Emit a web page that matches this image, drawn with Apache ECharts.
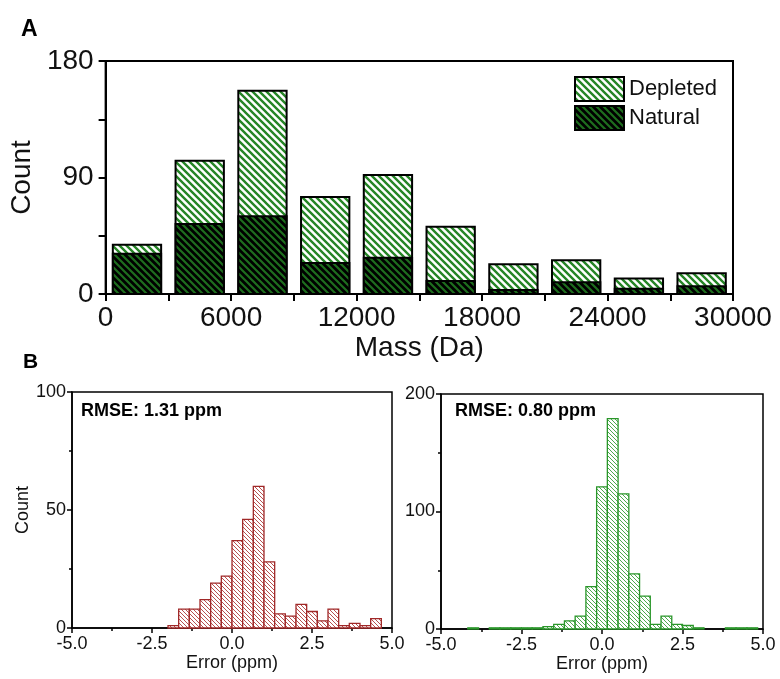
<!DOCTYPE html>
<html>
<head>
<meta charset="utf-8">
<script src="https://cdn.jsdelivr.net/npm/echarts@6/dist/echarts.min.js"></script>
<style>
  html, body { margin: 0; padding: 0; background: #fff; }
  #main { width: 780px; height: 679px; }
</style>
</head>
<body>
<div id="main"></div>
<script>
// panel A: mass histogram, bins of 3000 Da
const massBinStart = [0, 3000, 6000, 9000, 12000, 15000, 18000, 21000, 24000, 27000]
const massBinSize = 3000
const depletedCounts = [38, 103, 157, 75, 92, 52, 23, 26, 12, 16]
const naturalCounts = [31, 54, 60, 24, 28, 10, 3, 9, 4, 6]

// panel B: error histograms, bins of 1/3 ppm (bin centres)
const errBinSize = 1 / 3
const errCentersLeft = [-1.833, -1.5, -1.167, -0.833, -0.5, -0.167, 0.167, 0.5, 0.833, 1.167,
  1.5, 1.833, 2.167, 2.5, 2.833, 3.167, 3.5, 3.833, 4.167, 4.5]
const errCountsLeft = [1, 8, 8, 12, 19, 22, 37, 46, 60, 28, 6, 5, 10, 7, 3, 8, 1, 2, 1, 4]
const errCentersRight = [-4.0, -3.333, -3.0, -2.667, -2.333, -2.0, -1.667, -1.333, -1.0, -0.667,
  -0.333, 0, 0.333, 0.667, 1.0, 1.333, 1.667, 2.0, 2.333, 2.667, 3.0, 4.0, 4.333, 4.667]
const errCountsRight = [1, 1, 1, 1, 1, 1, 2, 4, 7, 11, 36, 121, 179, 115, 47, 28, 4, 11, 4, 3, 1, 1, 1, 1]

const rmseLeft = 'RMSE: 1.31 ppm'
const rmseRight = 'RMSE: 0.80 ppm'

function stripes (bg, fg, size, lw) {
  const c = document.createElement('canvas')
  c.width = size
  c.height = size
  const g = c.getContext('2d')
  if (bg) {
    g.fillStyle = bg
    g.fillRect(0, 0, size, size)
  }
  g.strokeStyle = fg
  g.lineWidth = lw
  g.beginPath()
  for (const o of [-size, 0, size]) {
    g.moveTo(o - 1, -1)
    g.lineTo(o + size + 1, size + 1)
  }
  g.stroke()
  return { image: c, repeat: 'repeat' }
}

const depletedFill = stripes('#ffffff', '#268526', 7, 2.4)
const naturalFill = stripes('#000000', '#1e6e1e', 7, 2.2)
const redFill = stripes('#ffffff', '#b85050', 4, 1)
const greenFill = stripes('#ffffff', '#4ea84e', 4, 1)

const FONT = 'Liberation Sans, Arial, sans-serif'

const chartDom = document.getElementById('main')
const myChart = echarts.init(chartDom, null, { renderer: 'canvas' })

// bars in panel A: 77% of the bin, centred
const massBar = (fill, edge) => (params, api) => {
  const x0 = api.value(0)
  const x1 = api.value(1)
  const v = api.value(2)
  const pTop = api.coord([x0, v])
  const pEnd = api.coord([x1, 0])
  const full = pEnd[0] - pTop[0]
  const w = full * 0.77
  return {
    type: 'rect',
    shape: { x: pTop[0] + (full - w) / 2, y: pTop[1], width: w, height: pEnd[1] - pTop[1] },
    style: { fill: fill, stroke: edge, lineWidth: 2 }
  }
}

const histBar = (fill, stroke) => (params, api) => {
  const pTop = api.coord([api.value(0), api.value(2)])
  const pEnd = api.coord([api.value(1), 0])
  return {
    type: 'rect',
    shape: { x: pTop[0], y: pTop[1], width: pEnd[0] - pTop[0], height: pEnd[1] - pTop[1] },
    style: { fill: fill, stroke: stroke, lineWidth: 1.3 }
  }
}

const massData = (counts) => massBinStart.map((s, i) => [s, s + massBinSize, counts[i]])
const errData = (centers, counts) => centers.map((c, i) => [c - errBinSize / 2, c + errBinSize / 2, counts[i]])

const axisA = {
  axisLine: { onZero: false, lineStyle: { color: '#000', width: 2 } },
  axisTick: { inside: false, length: 7, lineStyle: { color: '#000', width: 2 } },
  minorTick: { show: true, splitNumber: 2, length: 7, lineStyle: { color: '#000', width: 2 } },
  splitLine: { show: false },
  axisLabel: { color: '#111', fontSize: 28, fontFamily: FONT, formatter: v => String(v) },
  nameTextStyle: { color: '#111', fontSize: 28, fontFamily: FONT }
}

const axisB = {
  axisLine: { onZero: false, lineStyle: { color: '#000', width: 1.5 } },
  axisTick: { inside: false, length: 5, lineStyle: { color: '#000', width: 1.5 } },
  minorTick: { show: true, splitNumber: 2, length: 3, lineStyle: { color: '#000', width: 1.5 } },
  splitLine: { show: false },
  axisLabel: { color: '#111', fontSize: 18, fontFamily: FONT },
  nameTextStyle: { color: '#111', fontSize: 18, fontFamily: FONT }
}

const option = {
  animation: false,
  backgroundColor: '#fff',
  title: [
    { text: 'A', left: 16, top: 13, textStyle: { fontSize: 23, fontWeight: 900, fontFamily: FONT, color: '#000' } },
    { text: 'B', left: 18, top: 347, textStyle: { fontSize: 21, fontWeight: 900, fontFamily: FONT, color: '#000' } },
    { text: rmseLeft, left: 76, top: 397, textStyle: { fontSize: 18, fontWeight: 'bold', fontFamily: FONT, color: '#000' } },
    { text: rmseRight, left: 450, top: 397, textStyle: { fontSize: 18, fontWeight: 'bold', fontFamily: FONT, color: '#000' } }
  ],
  legend: {
    orient: 'vertical',
    left: 569,
    top: 71,
    itemWidth: 49,
    itemHeight: 24,
    itemGap: 3,
    textStyle: { fontSize: 22, fontFamily: FONT, color: '#111' },
    data: [
      { name: 'Depleted', icon: 'rect', itemStyle: { color: depletedFill, borderColor: '#000', borderWidth: 2 } },
      { name: 'Natural', icon: 'rect', itemStyle: { color: naturalFill, borderColor: '#000', borderWidth: 2 } }
    ]
  },
  grid: [
    { left: 102, right: 47, top: 61, bottom: 385, show: true, borderColor: '#000', borderWidth: 2 },
    { left: 72, right: 388, top: 392, bottom: 51, show: true, borderColor: '#000', borderWidth: 1.5 },
    { left: 441, right: 17, top: 394, bottom: 50, show: true, borderColor: '#000', borderWidth: 1.5 }
  ],
  xAxis: [
    Object.assign({}, axisA, {
      type: 'value', gridIndex: 0, min: 0, max: 30000, interval: 6000,
      name: 'Mass (Da)', nameLocation: 'middle', nameGap: 40,
      axisLabel: Object.assign({}, axisA.axisLabel, { margin: 10 })
    }),
    Object.assign({}, axisB, {
      type: 'value', gridIndex: 1, min: -5, max: 5, interval: 2.5,
      name: 'Error (ppm)', nameLocation: 'middle', nameGap: 26,
      axisLabel: Object.assign({}, axisB.axisLabel, { margin: 7, formatter: v => v.toFixed(1) })
    }),
    Object.assign({}, axisB, {
      type: 'value', gridIndex: 2, min: -5, max: 5, interval: 2.5,
      name: 'Error (ppm)', nameLocation: 'middle', nameGap: 26,
      axisLabel: Object.assign({}, axisB.axisLabel, { margin: 7, formatter: v => v.toFixed(1) })
    })
  ],
  yAxis: [
    Object.assign({}, axisA, {
      type: 'value', gridIndex: 0, min: 0, max: 180, interval: 90,
      name: 'Count', nameLocation: 'middle', nameGap: 54,
      axisLabel: Object.assign({}, axisA.axisLabel, { margin: 12 })
    }),
    Object.assign({}, axisB, {
      type: 'value', gridIndex: 1, min: 0, max: 100, interval: 50,
      name: 'Count', nameLocation: 'middle', nameGap: 40,
      axisLabel: Object.assign({}, axisB.axisLabel, { margin: 6 })
    }),
    Object.assign({}, axisB, {
      type: 'value', gridIndex: 2, min: 0, max: 200, interval: 100,
      axisLabel: Object.assign({}, axisB.axisLabel, { margin: 6 })
    })
  ],
  series: [
    {
      name: 'Depleted', type: 'custom', xAxisIndex: 0, yAxisIndex: 0,
      itemStyle: { color: depletedFill },
      encode: { x: [0, 1], y: 2 },
      renderItem: massBar(depletedFill, '#000'),
      data: massData(depletedCounts)
    },
    {
      name: 'Natural', type: 'custom', xAxisIndex: 0, yAxisIndex: 0,
      itemStyle: { color: naturalFill },
      encode: { x: [0, 1], y: 2 },
      renderItem: massBar(naturalFill, '#000'),
      data: massData(naturalCounts)
    },
    {
      name: 'Error left', type: 'custom', xAxisIndex: 1, yAxisIndex: 1,
      encode: { x: [0, 1], y: 2 },
      renderItem: histBar(redFill, '#a02828'),
      data: errData(errCentersLeft, errCountsLeft)
    },
    {
      name: 'Error right', type: 'custom', xAxisIndex: 2, yAxisIndex: 2,
      encode: { x: [0, 1], y: 2 },
      renderItem: histBar(greenFill, '#2a962a'),
      data: errData(errCentersRight, errCountsRight)
    }
  ]
}

option && myChart.setOption(option)
</script>
</body>
</html>
